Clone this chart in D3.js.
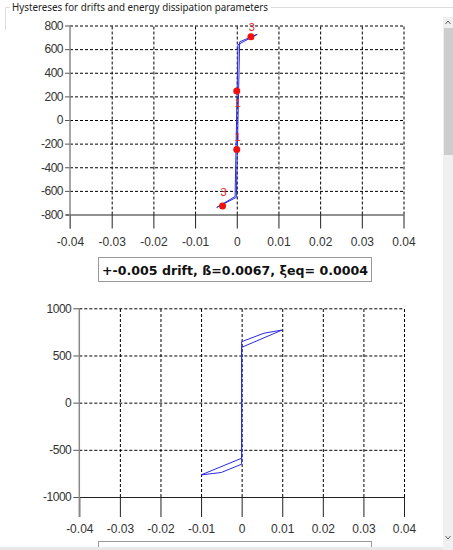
<!DOCTYPE html>
<html><head><meta charset="utf-8">
<script src="https://cdn.jsdelivr.net/npm/d3@7"></script>
<style>
html,body{margin:0;padding:0;background:#fff;overflow:hidden}
svg{display:block}
</style></head>
<body>
<svg id="c" width="453" height="550"></svg>
<script>
const title = "Hystereses for drifts and energy dissipation parameters";
const caption = "+-0.005 drift, \u00DF=0.0067, \u03BEeq= 0.0004";
const xTicks = [-0.04,-0.03,-0.02,-0.01,0,0.01,0.02,0.03,0.04];
const xTickLabels = ["-0.04","-0.03","-0.02","-0.01","0","0.01","0.02","0.03","0.04"];
const yTicksTop = [-800,-600,-400,-200,0,200,400,600,800];
const yTicksBottom = [-1000,-500,0,500,1000];
// top hysteresis loop (drift, force)
const loopTop = [[-0.0048,-740],[-0.0004,-648],[0.0003,638],[0.0049,725],[0.0007,662],[-0.0001,-655],[-0.0048,-740]];
const pointsTop = [[0.0034,705,"3"],[0,245,"1"],[0,-250,"1"],[-0.0034,-727,"3"]];
// bottom hysteresis loop
const loopBottom = [[-0.01,-766],[0,-589],[0,586],[0.01,770],[0.0055,736],[0,646],[0,-652],[-0.005,-740],[-0.01,-766]];

const svg = d3.select("#c");

// group box frame
svg.append("path").attr("d","M5.5,30 L5.5,7.5 L10,7.5").attr("stroke","#dcdcdc").attr("fill","none");
svg.append("line").attr("x1",271).attr("x2",453).attr("y1",7.5).attr("y2",7.5).attr("stroke","#dcdcdc");
svg.append("text").attr("x",12).attr("y",11).attr("font-family","'Noto Sans', sans-serif")
  .attr("font-size",10.5).attr("fill","#222").attr("textLength",256).attr("lengthAdjust","spacingAndGlyphs").text(title);

function chart(cfg){
  const g = svg.append("g");
  const x = d3.scaleLinear().domain([-0.04,0.04]).range(cfg.xr);
  const y = d3.scaleLinear().domain(cfg.yd).range(cfg.yr);
  const [x0,x1] = cfg.xr, [yb,yt] = cfg.yr;
  // grid
  g.append("g").attr("transform",`translate(${x0},0)`)
    .call(d3.axisLeft(y).tickValues(cfg.yt.slice(1)).tickSize(-(x1-x0)).tickFormat(""))
    .call(s=>s.select(".domain").remove())
    .call(s=>s.selectAll("line").attr("stroke","#000").attr("stroke-dasharray","3,2"));
  g.append("g").attr("transform",`translate(0,${yb})`)
    .call(d3.axisBottom(x).tickValues(xTicks.slice(1)).tickSize(-(yb-yt)).tickFormat(""))
    .call(s=>s.select(".domain").remove())
    .call(s=>s.selectAll("line").attr("stroke","#000").attr("stroke-dasharray","3,2"));
  // x axis ticks & labels
  const xa = g.append("g").attr("transform",`translate(0,${yb})`)
    .call(d3.axisBottom(x).tickValues(xTicks).tickSize(cfg.xts).tickSizeOuter(0).tickFormat((d,i)=>xTickLabels[i]));
  xa.select(".domain").remove();
  xa.selectAll("line").attr("stroke","#222");
  xa.selectAll("text").attr("font-family","'Liberation Sans', Arial, sans-serif").attr("font-size",12).attr("fill","#333").attr("dy",cfg.xdy);
  g.append("line").attr("x1",x0-4).attr("x2",x1).attr("y1",yb+0.5).attr("y2",yb+0.5).attr("stroke","#222");
  // y axis
  const ya = g.append("g").attr("transform",`translate(${x0},0)`)
    .call(d3.axisLeft(y).tickValues(cfg.yt).tickSize(cfg.yts).tickSizeOuter(0).tickPadding(2).tickFormat(d=>String(d)));
  ya.select(".domain").remove();
  ya.selectAll("line").attr("stroke","#555");
  ya.selectAll("text").attr("font-family","'Liberation Sans', Arial, sans-serif").attr("font-size",12).attr("fill","#333").attr("letter-spacing",-0.5);
  g.append("line").attr("x1",x0).attr("x2",x0).attr("y1",yt).attr("y2",yb+cfg.xts).attr("stroke","#888").attr("stroke-width",1.5);
  // loop
  const line = d3.line().x(d=>x(d[0])).y(d=>y(d[1]));
  g.append("path").datum(cfg.loop).attr("d",line).attr("fill","none").attr("stroke","#2a2ae0").attr("stroke-width",1);
  if(cfg.pts){
    g.selectAll("circle").data(cfg.pts).join("circle").attr("cx",d=>x(d[0])).attr("cy",d=>y(d[1])).attr("r",3.5).attr("fill","#f01010");
    g.selectAll("text.lab").data(cfg.pts).join("text").attr("class","lab")
      .attr("x",d=>x(d[0])+1).attr("y",(d,i)=>y(d[1])+[-6,16,-9,-10][i])
      .attr("text-anchor","middle").attr("font-family","'Liberation Sans', Arial, sans-serif").attr("font-size",11).attr("fill","#e02020").text(d=>d[2]);
  }
  return g;
}

chart({xr:[70,403.5], yd:[-800,800], yr:[214.5,25.5], yt:yTicksTop, loop:loopTop, pts:pointsTop, xts:14, yts:5, xdy:"1.2em"});
chart({xr:[79.3,404], yd:[-1000,1000], yr:[497,308.3], yt:yTicksBottom, loop:loopBottom, pts:null, xts:20, yts:6, xdy:"1.05em"});

// caption box
svg.append("rect").attr("x",98.5).attr("y",257.5).attr("width",273).attr("height",24).attr("fill","#fff").attr("stroke","#999");
svg.append("text").attr("x",235).attr("y",274.5).attr("text-anchor","middle").attr("font-family","'DejaVu Sans', sans-serif")
  .attr("font-weight","bold").attr("font-size",12.5).attr("fill","#111").attr("textLength",266).attr("lengthAdjust","spacingAndGlyphs").text(caption);
// second caption box (cut off)
svg.append("rect").attr("x",98.5).attr("y",541.5).attr("width",273).attr("height",24).attr("fill","#fff").attr("stroke","#999");
svg.append("rect").attr("x",0).attr("y",547).attr("width",453).attr("height",3).attr("fill","#e8e8e8");

// scrollbar
svg.append("rect").attr("x",443).attr("y",17).attr("width",10).attr("height",533).attr("fill","#f0f0f0");
svg.append("rect").attr("x",444).attr("y",28).attr("width",9).attr("height",127).attr("fill","#cdcdcd");
svg.append("path").attr("d","M445.5,24 L448,21 L450.5,24").attr("stroke","#606060").attr("fill","none");
svg.append("path").attr("d","M445.5,536 L448,539 L450.5,536").attr("stroke","#606060").attr("fill","none");
</script>
</body></html>
